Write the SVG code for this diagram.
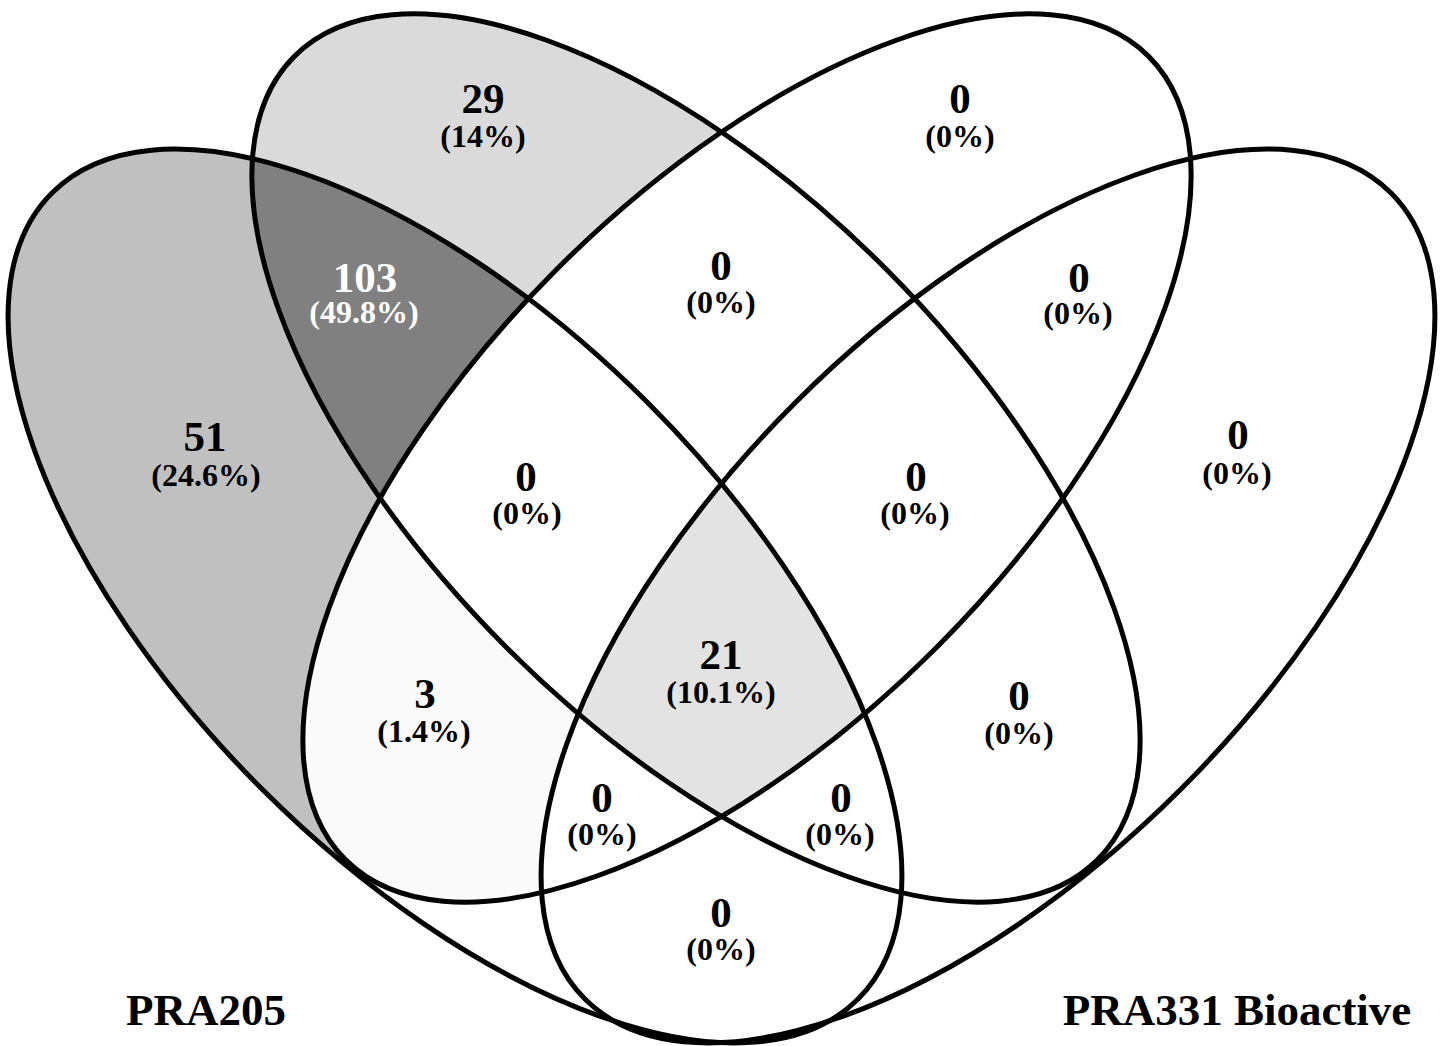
<svg xmlns="http://www.w3.org/2000/svg" xmlns:xlink="http://www.w3.org/1999/xlink" width="1447" height="1046" viewBox="0 0 1447 1046">
  <style>
    .outline { fill: none; stroke: #000; stroke-width: 5; }
    .num { font-family: "Liberation Serif", "Times New Roman", serif; font-weight: bold; font-size: 43px; text-anchor: middle; fill: #000; }
    .pct { font-family: "Liberation Serif", "Times New Roman", serif; font-weight: bold; font-size: 32px; text-anchor: middle; fill: #000; }
    .inv { fill: #fff; }
    .cat { font-family: "Liberation Serif", "Times New Roman", serif; font-weight: bold; font-size: 45px; text-anchor: middle; fill: #000; }
  </style>
  <defs>
    <!-- four ellipses, mirrored about x = 721.5 -->
    <ellipse id="eA" cx="455" cy="596" rx="570" ry="273" transform="rotate(45 455 596)"/>
    <ellipse id="eB" cx="696" cy="458" rx="568" ry="268" transform="rotate(45 696 458)"/>
    <ellipse id="eC" cx="747" cy="458" rx="568" ry="268" transform="rotate(-45 747 458)"/>
    <ellipse id="eD" cx="988" cy="596" rx="570" ry="273" transform="rotate(-45 988 596)"/>
    <clipPath id="cA"><use xlink:href="#eA"/></clipPath>
    <clipPath id="cB"><use xlink:href="#eB"/></clipPath>
    <clipPath id="cC"><use xlink:href="#eC"/></clipPath>
    <clipPath id="cD"><use xlink:href="#eD"/></clipPath>
  </defs>

  <rect width="1447" height="1046" fill="#fff"/>

  <!-- region shading, painted in layers -->
  <g id="fills">
    <use xlink:href="#eA" fill="#c0c0c0"/>
    <use xlink:href="#eB" fill="#dadada"/>
    <g clip-path="url(#cA)"><use xlink:href="#eB" fill="#808080"/></g>
    <!-- the A-only shading stops at the lower tip of C -->
    <polygon points="150,900 340,862 345,859 470,898 550,884 620,884 780,1046 150,1046" fill="#fff"/>
    <use xlink:href="#eC" fill="#fff"/>
    <use xlink:href="#eD" fill="#fff"/>
    <g clip-path="url(#cA)"><use xlink:href="#eC" fill="#fafafa"/></g>
    <g clip-path="url(#cC)"><use xlink:href="#eB" fill="#fff"/></g>
    <use xlink:href="#eD" fill="#fff"/>
    <g clip-path="url(#cA)"><g clip-path="url(#cB)"><g clip-path="url(#cC)"><use xlink:href="#eD" fill="#e3e3e3"/></g></g></g>
  </g>

  <!-- set outlines -->
  <g id="set-pra205"><use xlink:href="#eA" class="outline"/></g>
  <g id="set-b"><use xlink:href="#eB" class="outline"/></g>
  <g id="set-c"><use xlink:href="#eC" class="outline"/></g>
  <g id="set-pra331"><use xlink:href="#eD" class="outline"/></g>
  <g id="connectors"/>

  <!-- region counts -->
  <g id="counts">
    <text class="num" x="205" y="451">51</text>
    <text class="pct" x="206" y="486">(24.6%)</text>

    <text class="num inv" x="365" y="292">103</text>
    <text class="pct inv" x="364" y="323">(49.8%)</text>

    <text class="num" x="483" y="113">29</text>
    <text class="pct" x="483" y="147">(14%)</text>

    <text class="num" x="960" y="113">0</text>
    <text class="pct" x="960" y="147">(0%)</text>

    <text class="num" x="721" y="280">0</text>
    <text class="pct" x="721" y="313">(0%)</text>

    <text class="num" x="1079" y="292">0</text>
    <text class="pct" x="1078" y="324">(0%)</text>

    <text class="num" x="526" y="491">0</text>
    <text class="pct" x="527" y="524">(0%)</text>

    <text class="num" x="916" y="491">0</text>
    <text class="pct" x="915" y="524">(0%)</text>

    <text class="num" x="1238" y="449">0</text>
    <text class="pct" x="1237" y="484">(0%)</text>

    <text class="num" x="721" y="669">21</text>
    <text class="pct" x="721" y="703">(10.1%)</text>

    <text class="num" x="425" y="708">3</text>
    <text class="pct" x="424" y="742">(1.4%)</text>

    <text class="num" x="1019" y="710">0</text>
    <text class="pct" x="1019" y="744">(0%)</text>

    <text class="num" x="602" y="812">0</text>
    <text class="pct" x="602" y="845">(0%)</text>

    <text class="num" x="841" y="812">0</text>
    <text class="pct" x="840" y="845">(0%)</text>

    <text class="num" x="721" y="927">0</text>
    <text class="pct" x="721" y="960">(0%)</text>
  </g>

  <!-- category names -->
  <g id="labels">
    <text class="cat" x="206" y="1025">PRA205</text>
    <text class="cat" x="1237" y="1025">PRA331 Bioactive</text>
  </g>
</svg>
